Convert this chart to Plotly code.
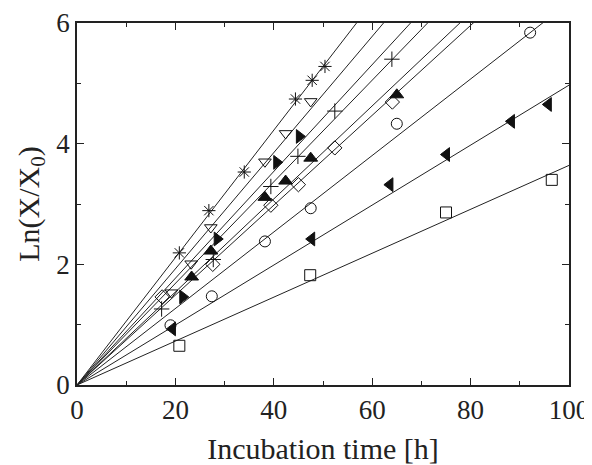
import plotly.graph_objects as go

# Data (time [h], ln(X/X0))
star_t = [20.8, 26.8, 34.0, 44.4, 47.8, 50.4]
star_y = [2.19, 2.89, 3.53, 4.74, 5.05, 5.28]
dtri_t = [19.2, 23.2, 27.2, 38.2, 42.4, 47.5]
dtri_y = [1.53, 2.01, 2.61, 3.70, 4.17, 4.70]
rtri_t = [21.5, 28.5, 40.6, 45.2]
rtri_y = [1.46, 2.42, 3.69, 4.12]
plus_t = [17.2, 27.7, 39.4, 44.9, 52.4, 64.0]
plus_y = [1.26, 2.08, 3.29, 3.79, 4.54, 5.40]
utri_t = [23.3, 27.2, 38.2, 42.4, 47.5, 65.0]
utri_y = [1.79, 2.22, 3.11, 3.38, 3.76, 4.81]
diam_t = [17.3, 27.6, 39.4, 45.0, 52.4, 64.1]
diam_y = [1.46, 2.00, 2.98, 3.32, 3.93, 4.69]
circ_t = [19.0, 27.4, 38.2, 47.5, 65.0, 92.1]
circ_y = [0.99, 1.47, 2.38, 2.93, 4.33, 5.84]
ltri_t = [19.4, 47.7, 63.6, 75.1, 88.3, 95.8]
ltri_y = [0.93, 2.42, 3.32, 3.82, 4.37, 4.65]
sq_t = [20.8, 47.4, 75.0, 96.5]
sq_y = [0.65, 1.82, 2.86, 3.40]

# fitted specific growth rates (slopes of lines through origin)
fit_slopes = [0.1056, 0.0963, 0.0885, 0.0842, 0.0771, 0.0745, 0.0634, 0.0497, 0.0364]

series = [
    (star_t, star_y, "asterisk-open", False),
    (dtri_t, dtri_y, "triangle-down-open", False),
    (rtri_t, rtri_y, "triangle-right", True),
    (plus_t, plus_y, "cross-thin-open", False),
    (utri_t, utri_y, "triangle-up", True),
    (diam_t, diam_y, "diamond-open", False),
    (circ_t, circ_y, "circle-open", False),
    (ltri_t, ltri_y, "triangle-left", True),
    (sq_t, sq_y, "square-open", False),
]

x_range = [0, 100]
fig = go.Figure()

for s in fit_slopes:
    fig.add_trace(go.Scatter(
        x=x_range, y=[s * v for v in x_range], mode="lines",
        line=dict(color="#222222", width=1), showlegend=False, hoverinfo="skip"))

for t, y, sym, filled in series:
    fig.add_trace(go.Scatter(
        x=t, y=y, mode="markers", showlegend=False,
        marker=dict(symbol=sym, size=12 if filled else 11,
                    color="#111111",
                    line=dict(color="#111111", width=1))))

tick_font = dict(family="Liberation Serif", size=27, color="#222222")
title_font = dict(family="Liberation Serif", size=30, color="#222222")

axis_common = dict(
    showgrid=False, zeroline=False, showline=True, linecolor="#222222",
    linewidth=1.5, mirror="ticks", ticks="inside", ticklen=7, tickwidth=1,
    tickcolor="#222222", tickfont=tick_font, automargin=False,
)

fig.update_xaxes(range=[0, 100], dtick=20, tick0=0,
                 minor=dict(ticks="inside", ticklen=4, dtick=10, tickcolor="#222222"),
                 title=dict(text="Incubation time [h]", font=title_font, standoff=14),
                 **axis_common)
fig.update_yaxes(range=[0, 6], dtick=2, tick0=0,
                 minor=dict(ticks="inside", ticklen=4, dtick=1, tickcolor="#222222"),
                 title=dict(text="Ln(X/X<sub>0</sub>)", font=title_font, standoff=8),
                 **axis_common)

# page body has an 8px default margin, so the figure is sized to fit the window
fig.update_layout(
    width=584, height=457,
    margin=dict(l=69, r=23, t=15, b=80),
    paper_bgcolor="white", plot_bgcolor="white",
    font=tick_font,
)

fig.write_html("out.html")
